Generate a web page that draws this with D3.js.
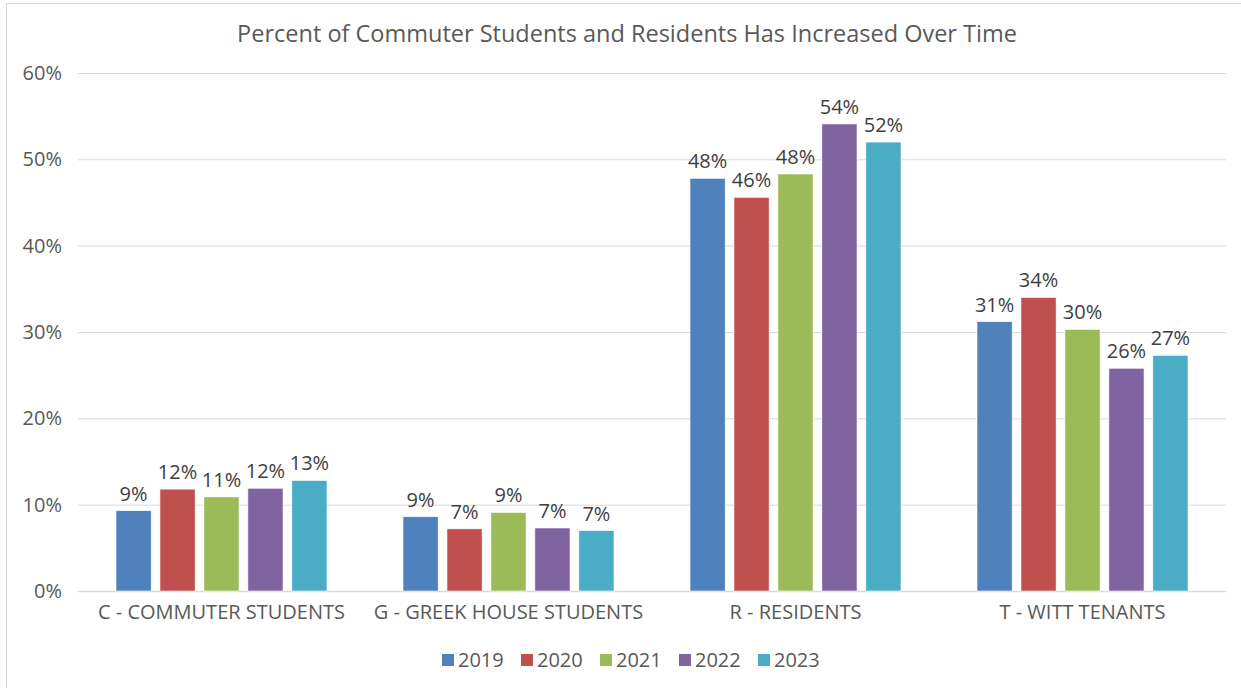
<!DOCTYPE html>
<html>
<head>
<meta charset="utf-8">
<script src="https://cdn.jsdelivr.net/npm/d3@7"></script>
<style>
  body { margin: 0; background: #fff; }
  svg { display: block; font-family: "Open Sans", "Noto Sans", sans-serif; }
</style>
</head>
<body>
<svg id="chart" width="1241" height="688"></svg>
<script>
// chart data
const categories = ['C - COMMUTER STUDENTS', 'G - GREEK HOUSE STUDENTS', 'R - RESIDENTS', 'T - WITT TENANTS'];
const years = ['2019', '2020', '2021', '2022', '2023'];
const colors = ['#4f81bd', '#c0504d', '#9bbb59', '#8064a2', '#4bacc6'];
const values2019 = [9.3, 8.6, 47.8, 31.2];
const values2020 = [11.8, 7.2, 45.6, 34.0];
const values2021 = [10.9, 9.1, 48.3, 30.3];
const values2022 = [11.9, 7.3, 54.1, 25.8];
const values2023 = [12.8, 7.0, 52.0, 27.3];
const seriesValues = [values2019, values2020, values2021, values2022, values2023];
const yTicks = [0, 10, 20, 30, 40, 50, 60];
const title = 'Percent of Commuter Students and Residents Has Increased Over Time';

const svg = d3.select('#chart');
const margin = { top: 73, right: 15, bottom: 97, left: 78 };
const width = 1241 - margin.left - margin.right;
const height = 688 - margin.top - margin.bottom;

// chart border
svg.append('rect')
    .attr('x', 6.5).attr('y', 3.5)
    .attr('width', 1240).attr('height', 690)
    .attr('fill', 'none')
    .attr('stroke', '#d9d9d9');

// title
svg.append('text')
    .attr('x', 627).attr('y', 42)
    .attr('text-anchor', 'middle')
    .style('font-size', '23.5px')
    .style('fill', '#595959')
    .text(title);

const g = svg.append('g').attr('transform', `translate(${margin.left},${margin.top})`);

// scales
const x0 = d3.scaleBand().domain(categories).range([0, width]).paddingInner(0).paddingOuter(0);
const y = d3.scaleLinear().domain([0, 60]).range([height, 0]);
const x1 = d3.scaleBand().domain(years)
    .range([38, x0.bandwidth() - 38])
    .paddingInner(0.2).paddingOuter(0);

// gridlines
g.append('g')
    .selectAll('line')
    .data(yTicks)
    .join('line')
    .attr('x1', 0).attr('x2', width)
    .attr('y1', d => y(d) + 0.5).attr('y2', d => y(d) + 0.5)
    .attr('stroke', '#d9d9d9')
    .attr('stroke-width', d => d === 0 ? 1.5 : 1);

// y axis labels
const yAxis = d3.axisLeft(y).tickValues(yTicks).tickFormat(d => d + '%').tickSize(0).tickPadding(16);
g.append('g')
    .call(yAxis)
    .call(a => a.select('.domain').remove())
    .selectAll('text')
    .style('font-size', '20px')
    .style('fill', '#595959')
    .style('font-family', '"Open Sans", "Noto Sans", sans-serif');

// x axis labels
const xAxis = d3.axisBottom(x0).tickSize(0).tickPadding(14);
g.append('g')
    .attr('transform', `translate(0,${height})`)
    .call(xAxis)
    .call(a => a.select('.domain').remove())
    .selectAll('text')
    .style('font-size', '20px')
    .style('fill', '#595959')
    .style('font-family', '"Open Sans", "Noto Sans", sans-serif');

// bars
const rows = [];
categories.forEach((c, ci) => {
    years.forEach((yr, yi) => {
        rows.push({ cat: c, year: yr, value: seriesValues[yi][ci], color: colors[yi] });
    });
});

const groups = g.append('g');
groups.selectAll('rect')
    .data(rows)
    .join('rect')
    .attr('x', d => x0(d.cat) + x1(d.year))
    .attr('y', d => y(d.value))
    .attr('width', x1.bandwidth())
    .attr('height', d => height - y(d.value))
    .attr('fill', d => d.color)
    .attr('stroke', '#fff')
    .attr('stroke-width', 0.6);

// data labels
groups.selectAll('text')
    .data(rows)
    .join('text')
    .attr('x', d => x0(d.cat) + x1(d.year) + x1.bandwidth() / 2)
    .attr('y', d => y(d.value) - 10)
    .attr('text-anchor', 'middle')
    .style('font-size', '20px')
    .style('fill', '#404040')
    .text(d => Math.round(d.value) + '%');

// legend
const legend = svg.append('g').attr('transform', 'translate(442,660)');
const itemW = 79;
years.forEach((yr, i) => {
    const item = legend.append('g').attr('transform', `translate(${i * itemW},0)`);
    item.append('rect')
        .attr('x', 0).attr('y', -6)
        .attr('width', 12).attr('height', 12)
        .attr('fill', colors[i]);
    item.append('text')
        .attr('x', 16).attr('y', 7)
        .style('font-size', '20px')
        .style('fill', '#595959')
        .text(yr);
});
</script>
</body>
</html>
